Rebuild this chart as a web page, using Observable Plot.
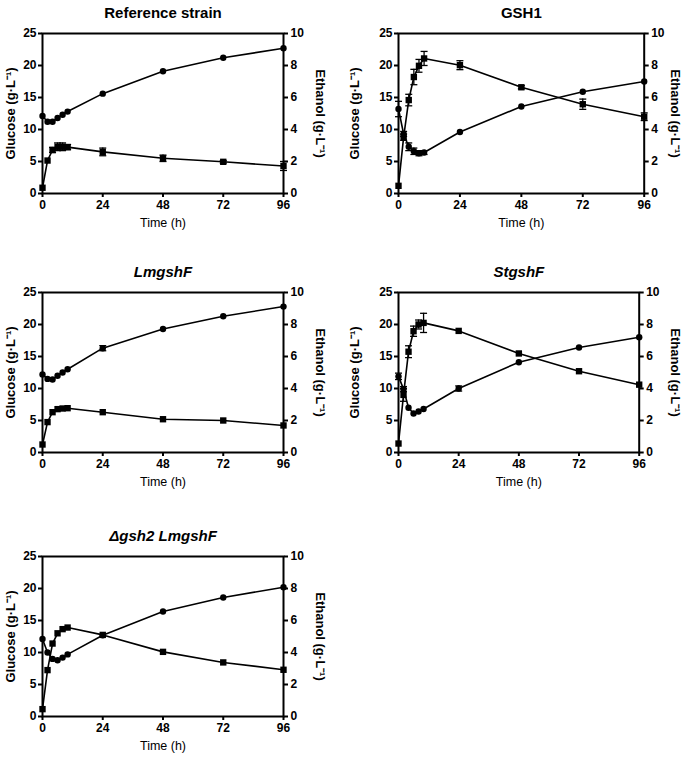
<!DOCTYPE html>
<html><head><meta charset="utf-8">
<script src="https://cdn.jsdelivr.net/npm/d3@7"></script>
<script src="https://cdn.jsdelivr.net/npm/@observablehq/plot@0.6"></script>
<style>
body{margin:0;background:#fff;font-family:"Liberation Sans",Arial,sans-serif;}
#root{position:relative;width:685px;height:757px;overflow:hidden;}
.panel{position:absolute;}
</style></head><body><div id="root"></div>
<script>
// ---- data ----
const time = [0, 2, 4, 6, 8, 10, 24, 48, 72, 96];
const timeTicks = [0, 24, 48, 72, 96];
const glucoseTicks = [0, 5, 10, 15, 20, 25];
const ethanolTicks = [0, 2, 4, 6, 8, 10];
const titles = ["Reference strain", "GSH1", "LmgshF", "StgshF", "\u0394gsh2 LmgshF"];

// glucose (circles, g/L, left axis)
const refGlucose  = [12.1, 11.2, 11.2, 11.8, 12.3, 12.8, 15.6, 19.1, 21.2, 22.7];
const gsh1Glucose = [13.2, 9.3, 7.3, 6.6, 6.3, 6.4, 9.6, 13.6, 15.9, 17.5];
const lmGlucose   = [12.2, 11.5, 11.4, 12.0, 12.5, 13.0, 16.3, 19.3, 21.3, 22.8];
const stGlucose   = [11.9, 9.9, 7.0, 6.1, 6.4, 6.8, 10.0, 14.1, 16.4, 18.0];
const dgGlucose   = [12.1, 10.0, 9.0, 8.8, 9.2, 9.7, 12.7, 16.4, 18.6, 20.2];

// ethanol (squares, g/L, right axis)
const refEthanol  = [0.36, 2.06, 2.72, 2.92, 2.92, 2.9, 2.6, 2.2, 1.98, 1.72];
const gsh1Ethanol = [0.48, 3.52, 5.84, 7.28, 7.98, 8.44, 8.02, 6.64, 5.58, 4.8];
const lmEthanol   = [0.5, 1.9, 2.52, 2.71, 2.75, 2.77, 2.52, 2.08, 2.0, 1.69];
const stEthanol   = [0.56, 3.6, 6.3, 7.58, 8.0, 8.1, 7.6, 6.19, 5.08, 4.24];
const dgEthanol   = [0.46, 2.9, 4.56, 5.2, 5.46, 5.56, 5.1, 4.04, 3.38, 2.92];

// error bars (SD)
const refGlucoseErr  = [0, 0, 0, 0, 0, 0, 0, 0, 0, 0];
const refEthanolErr  = [0, 0, 0.16, 0.24, 0.24, 0.16, 0.24, 0.2, 0.08, 0.28];
const gsh1GlucoseErr = [1.2, 0.4, 0.6, 0.5, 0.4, 0.3, 0, 0, 0, 0];
const gsh1EthanolErr = [0, 0.2, 0.36, 0.48, 0.4, 0.44, 0.28, 0.1, 0.32, 0.24];
const lmGlucoseErr   = [0, 0, 0, 0, 0, 0, 0.4, 0, 0, 0];
const lmEthanolErr   = [0, 0, 0, 0, 0, 0, 0, 0, 0, 0];
const stGlucoseErr   = [0.5, 0.4, 0, 0, 0, 0, 0.4, 0, 0, 0];
const stEthanolErr   = [0, 0.4, 0.37, 0.32, 0.28, 0.6, 0, 0, 0, 0];
const dgGlucoseErr   = [0, 0, 0, 0, 0, 0, 0, 0, 0, 0];
const dgEthanolErr   = [0, 0, 0, 0, 0, 0, 0, 0, 0, 0];

// ---- layout ----
const k = glucoseTicks[glucoseTicks.length - 1] / ethanolTicks[ethanolTicks.length - 1];
const FONT = '"Liberation Sans", Arial, sans-serif';
const panels = [
  {title: titles[0], italic: false, g: refGlucose, e: refEthanol, ge: refGlucoseErr, ee: refEthanolErr, left: 0, fl: 42, fr: 283, ft: 33.3, ldx: -32, rdx: 37},
  {title: titles[1], italic: false, g: gsh1Glucose, e: gsh1Ethanol, ge: gsh1GlucoseErr, ee: gsh1EthanolErr, left: 342, fl: 398, fr: 643.7, ft: 33.3, ldx: -44, rdx: 31},
  {title: titles[2], italic: true, g: lmGlucose, e: lmEthanol, ge: lmGlucoseErr, ee: lmEthanolErr, left: 0, fl: 42, fr: 283, ft: 292.3, ldx: -32, rdx: 37},
  {title: titles[3], italic: true, g: stGlucose, e: stEthanol, ge: stGlucoseErr, ee: stEthanolErr, left: 342, fl: 398, fr: 638.7, ft: 292.3, ldx: -44, rdx: 36},
  {title: titles[4], italic: true, g: dgGlucose, e: dgEthanol, ge: dgGlucoseErr, ee: dgEthanolErr, left: 0, fl: 42, fr: 283, ft: 555.7, ldx: -32, rdx: 37}
];

const capSymbol = {draw(ctx, size) { const w = Math.sqrt(size / Math.PI); ctx.moveTo(-w, 0); ctx.lineTo(w, 0); }};
const root = document.getElementById("root");
const W = 342, MT = 33, FH = 160, MB = 42;

panels.forEach(p => {
  const rows = time.map((t, i) => ({t, g: p.g[i], e: p.e[i] * k, ge: p.ge[i], ee: p.ee[i] * k}));
  const errRows = [
    ...rows.filter(d => d.ge > 0).map(d => ({t: d.t, y1: d.g - d.ge, y2: d.g + d.ge})),
    ...rows.filter(d => d.ee > 0).map(d => ({t: d.t, y1: d.e - d.ee, y2: d.e + d.ee}))
  ];
  const caps = errRows.flatMap(d => [{t: d.t, y: d.y1}, {t: d.t, y: d.y2}]);
  const chart = Plot.plot({
    width: W, height: MT + FH + MB,
    marginLeft: p.fl - p.left, marginRight: p.left + W - p.fr, marginTop: MT, marginBottom: MB,
    x: {domain: [0, 96]},
    y: {domain: [0, 25]},
    style: {fontFamily: FONT, fontSize: "12px", fontWeight: "bold", color: "black", background: "white", overflow: "visible"},
    marks: [
      Plot.axisX({ticks: timeTicks, tickSize: 4, tickPadding: 3, strokeWidth: 2, label: null, fontWeight: "bold"}),
      Plot.axisY({ticks: glucoseTicks, tickSize: 4, tickPadding: 2, strokeWidth: 2, label: null, fontWeight: "bold"}),
      Plot.axisY({anchor: "right", ticks: ethanolTicks.map(v => v * k), tickFormat: v => String(Math.round(v / k)), tickSize: 4, tickPadding: 3, strokeWidth: 2, label: null, fontWeight: "bold"}),
      Plot.frame({stroke: "black", strokeWidth: 2}),
      Plot.ruleX(errRows, {x: "t", y1: "y1", y2: "y2", stroke: "black", strokeWidth: 1.3}),
      Plot.dot(caps, {x: "t", y: "y", symbol: capSymbol, r: 3.5, stroke: "black", strokeWidth: 1.3, fill: "none"}),
      Plot.line(rows, {x: "t", y: "g", stroke: "black", strokeWidth: 1.6}),
      Plot.line(rows, {x: "t", y: "e", stroke: "black", strokeWidth: 1.6}),
      Plot.dot(rows, {x: "t", y: "g", r: 3.2, fill: "black", symbol: "circle"}),
      Plot.dot(rows, {x: "t", y: "e", r: 3.6, fill: "black", symbol: "square"}),
      Plot.text([p.title], {frameAnchor: "top", dy: -26, fontSize: 15, fontWeight: "bold", fontStyle: p.italic ? "italic" : "normal", textAnchor: "middle"}),
      Plot.text(["Glucose (g\u00b7L\u207b\u00b9)"], {frameAnchor: "left", dx: p.ldx, rotate: -90, fontSize: 13, fontWeight: "bold", textAnchor: "middle"}),
      Plot.text(["Ethanol (g\u00b7L\u207b\u00b9)"], {frameAnchor: "right", dx: p.rdx, rotate: 90, fontSize: 13, fontWeight: "bold", textAnchor: "middle"}),
      Plot.text(["Time (h)"], {frameAnchor: "bottom", dy: 33, fontSize: 12.5, fontWeight: "normal", textAnchor: "middle"})
    ]
  });
  const div = document.createElement("div");
  div.className = "panel";
  div.style.left = p.left + "px";
  div.style.top = (p.ft - MT) + "px";
  div.appendChild(chart);
  root.appendChild(div);
});
</script></body></html>
